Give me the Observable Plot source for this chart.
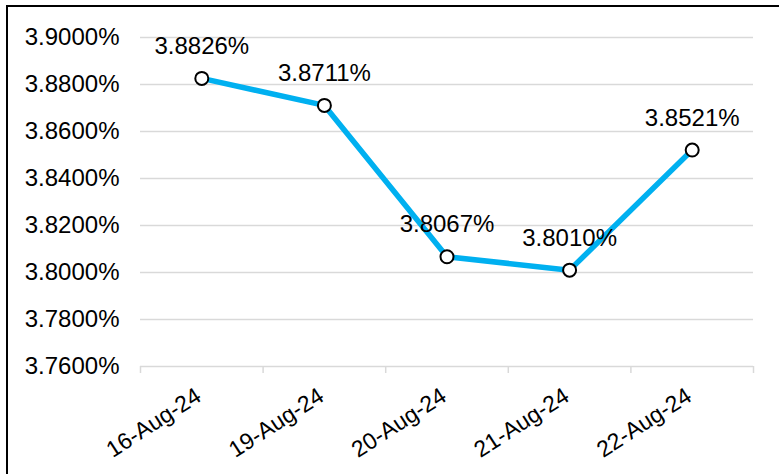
<!DOCTYPE html>
<html>
<head>
<meta charset="utf-8">
<script src="https://cdn.jsdelivr.net/npm/d3@7"></script>
<script src="https://cdn.jsdelivr.net/npm/@observablehq/plot@0.6"></script>
<style>
  html, body { margin: 0; padding: 0; background: #fff; overflow: hidden; }
  #wrap { position: relative; width: 779px; height: 474px; }
  #frame { position: absolute; left: 6px; top: 5px; width: 900px; height: 600px; border: 2px solid #000; box-sizing: border-box; pointer-events: none; }
  #chart { position: absolute; left: 0; top: 0; }
</style>
</head>
<body>
<div id="wrap"><div id="chart"></div><div id="frame"></div></div>
<script>
const dates = ["16-Aug-24", "19-Aug-24", "20-Aug-24", "21-Aug-24", "22-Aug-24"];
const rates = [3.8826, 3.8711, 3.8067, 3.8010, 3.8521];
const yTicks = [3.76, 3.78, 3.80, 3.82, 3.84, 3.86, 3.88, 3.90];

const data = dates.map((d, i) => ({i, date: d, rate: rates[i]}));
const bounds = d3.range(dates.length + 1).map(k => k - 0.5);
const font = "Liberation Sans, Arial, Helvetica, sans-serif";
const grid = "#d9d9d9";
const fs = 24;

const chart = Plot.plot({
  width: 779,
  height: 474,
  marginLeft: 140,
  marginRight: 26,
  marginTop: 37,
  marginBottom: 108,
  style: {fontFamily: font, fontSize: fs + "px", color: "#000", background: "transparent"},
  x: {type: "linear", domain: [-0.5, dates.length - 0.5]},
  y: {domain: [3.76, 3.90]},
  marks: [
    Plot.ruleY(yTicks, {stroke: grid, strokeWidth: 1.5}),
    Plot.axisX({ticks: bounds, tickSize: 7, stroke: grid, strokeWidth: 1.5, tickFormat: () => "", label: null}),
    Plot.axisX({ticks: d3.range(dates.length), tickSize: 0, tickPadding: 20, tickRotate: -33, dx: -3, dy: 7,
      tickFormat: i => dates[i], fontSize: 23, fill: "#000", label: null}),
    Plot.axisY({ticks: yTicks, tickSize: 0, tickPadding: 21, tickFormat: d => d.toFixed(4) + "%",
      fontSize: fs, fill: "#000", label: null}),
    Plot.line(data, {x: "i", y: "rate", stroke: "#00B0F0", strokeWidth: 5.5}),
    Plot.dot(data, {x: "i", y: "rate", r: 6.5, fill: "#fff", stroke: "#000", strokeWidth: 2}),
    Plot.text(data, {x: "i", y: "rate", text: d => d.rate.toFixed(4) + "%", dy: -32,
      fontSize: fs, fill: "#000"})
  ]
});
document.getElementById("chart").appendChild(chart);
</script>
</body>
</html>
